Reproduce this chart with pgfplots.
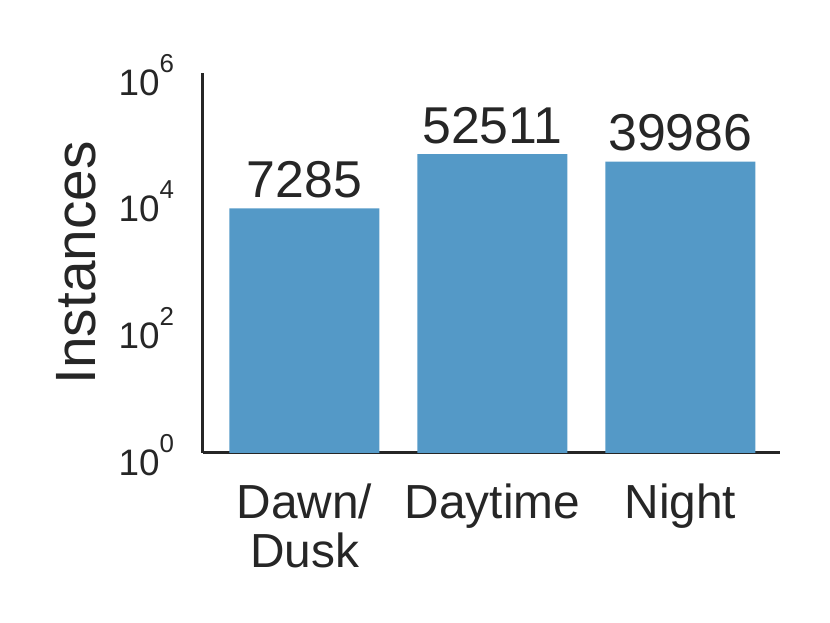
\documentclass[border=0pt]{standalone}
\usepackage{pgfplots}
\pgfplotsset{compat=1.18}
\usepackage{fontspec}
\setmainfont{Liberation Sans}
\definecolor{barblue}{RGB}{84,153,199}
\definecolor{ink}{RGB}{38,38,38}
\newcommand{\pw}[1]{10\raisebox{0.62em}{\fontsize{13}{13}\selectfont #1}}
\begin{document}
\begin{tikzpicture}
\begin{axis}[
  scale only axis,
  width=288.5bp, height=190bp,
  ymode=log,
  ymin=1, ymax=1000000,
  xmin=-0.54, xmax=2.53,
  axis x line*=bottom,
  axis y line*=left,
  axis line style={ink, line width=1.5bp},
  xtick={0,1,2},
  xticklabels={{Dawn/\\Dusk},Daytime,Night},
  xticklabel style={align=center, font=\fontsize{24}{24.5}\selectfont, text=ink, yshift=-12bp},
  ytick={1,100,10000,1000000},
  yticklabels={\pw{0},\pw{2},\pw{4},\pw{6}},
  yticklabel style={font=\fontsize{18.5}{20}\selectfont, text=ink, xshift=-11bp, yshift=-1bp},
  major tick length=0pt,
  tick style={draw=none},
  minor tick num=0,
  log basis y=10,
  ylabel={Instances},
  every axis y label/.style={at={(rel axis cs:0,0.5)}, rotate=90, anchor=center, yshift=63.5bp, font=\fontsize{28.5}{30}\selectfont, text=ink},
  ybar, bar width=75bp,
  point meta=explicit symbolic,
  nodes near coords,
  nodes near coords style={font=\fontsize{26}{28}\selectfont, text=ink, anchor=south, yshift=1.5bp},
  clip=false,
]
\addplot[fill=barblue, draw=none] coordinates {(0,7285) [7285] (1,52511) [52511] (2,39986) [39986]};
\end{axis}
\path[use as bounding box] ([xshift=-101.5bp, yshift=-85bp]current axis.south west) rectangle ([xshift=25bp, yshift=36.5bp]current axis.north east);
\end{tikzpicture}
\end{document}
